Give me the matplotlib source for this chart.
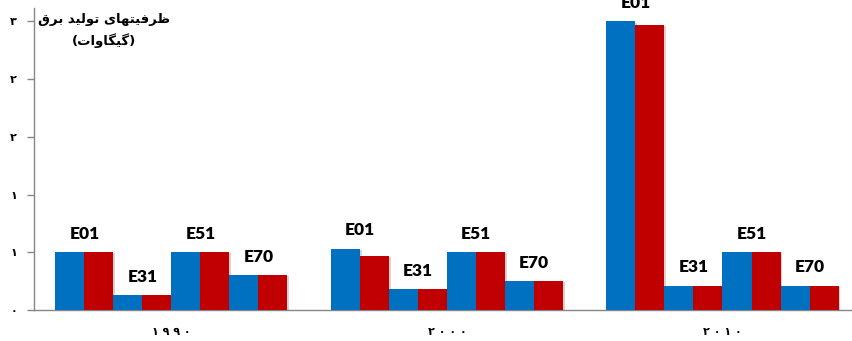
import numpy as np
import matplotlib.pyplot as plt
import matplotlib.patheffects as pe
from matplotlib.ticker import FuncFormatter

years = ['1990', '2000', '2010']
units = ['E01', 'E31', 'E51', 'E70']
# capacity per unit, two bars (blue / red) for each unit
blue_vals = [[0.50, 0.13, 0.50, 0.30],
             [0.53, 0.18, 0.50, 0.25],
             [2.50, 0.21, 0.50, 0.21]]
red_vals = [[0.50, 0.13, 0.50, 0.30],
            [0.47, 0.18, 0.50, 0.25],
            [2.47, 0.21, 0.50, 0.21]]
title_lines = ['ظرفیتهای تولید برق', '(گیگاوات)']

BLUE = '#0070C0'
RED = '#C00000'
GREY = '#868686'

FA_DIGITS = str.maketrans('0123456789', '۰۱۲۳۴۵۶۷۸۹')

# presentation forms: isolated, final, initial, medial
FORMS = {
    'ظ': ('\uFEC5', '\uFEC6', '\uFEC7', '\uFEC8'),
    'ر': ('\uFEAD', '\uFEAE', None, None),
    'ف': ('\uFED1', '\uFED2', '\uFED3', '\uFED4'),
    'ی': ('\uFBFC', '\uFBFD', '\uFBFE', '\uFBFF'),
    'ت': ('\uFE95', '\uFE96', '\uFE97', '\uFE98'),
    'ه': ('\uFEE9', '\uFEEA', '\uFEEB', '\uFEEC'),
    'ا': ('\uFE8D', '\uFE8E', None, None),
    'و': ('\uFEED', '\uFEEE', None, None),
    'ل': ('\uFEDD', '\uFEDE', '\uFEDF', '\uFEE0'),
    'د': ('\uFEA9', '\uFEAA', None, None),
    'ب': ('\uFE8F', '\uFE90', '\uFE91', '\uFE92'),
    'ق': ('\uFED5', '\uFED6', '\uFED7', '\uFED8'),
    'گ': ('\uFB92', '\uFB93', '\uFB94', '\uFB95'),
}


def shape_rtl(text):
    # join letters and reverse for left-to-right rendering
    out = []
    for i, ch in enumerate(text):
        if ch not in FORMS:
            out.append(ch)
            continue
        prev = text[i - 1] if i > 0 else ''
        nxt = text[i + 1] if i + 1 < len(text) else ''
        join_prev = prev in FORMS and FORMS[prev][2] is not None
        join_next = FORMS[ch][2] is not None and nxt in FORMS
        f = FORMS[ch]
        if join_prev and join_next:
            out.append(f[3])
        elif join_prev:
            out.append(f[1])
        elif join_next:
            out.append(f[2])
        else:
            out.append(f[0])
    s = ''.join(reversed(out))
    return s.translate(str.maketrans('()', ')('))


fig = plt.figure(figsize=(8.52, 3.41), dpi=100)
ax = fig.add_axes([0.0395, 0.091, 0.9605, 0.885])

n = len(units)
w = 0.1053
x = np.arange(len(years))
shadow = [pe.SimplePatchShadow(offset=(1.2, -0.8), alpha=0.18), pe.Normal()]

for g in range(len(years)):
    start = x[g] - n * w
    for k in range(n):
        xb = start + 2 * k * w + w / 2
        xr = xb + w
        b = ax.bar(xb, blue_vals[g][k], w, color=BLUE, zorder=3)
        r = ax.bar(xr, red_vals[g][k], w, color=RED, zorder=3)
        for p in list(b) + list(r):
            p.set_path_effects(shadow)
        top = max(blue_vals[g][k], red_vals[g][k])
        ax.text(xb + w / 2, top + 0.09, units[k], ha='center', va='bottom',
                fontsize=12.5, fontweight='heavy', family='Lato',
                clip_on=False, zorder=4)

ax.set_xlim(-0.5, 2.47)
ax.set_ylim(0, 2.615)
ax.set_yticks(np.arange(0, 2.51, 0.5))
ax.yaxis.set_major_formatter(FuncFormatter(
    lambda v, pos: str(int(np.floor(v + 0.5))).translate(FA_DIGITS)))
ax.set_xticks(x)
ax.set_xticklabels([' '.join(y.translate(FA_DIGITS)) for y in years])

for lab in ax.get_yticklabels() + ax.get_xticklabels():
    lab.set_family('DejaVu Sans')
    lab.set_fontweight('bold')
    lab.set_fontsize(8)

ax.tick_params(axis='y', length=5, width=1, color=GREY, pad=7)
ax.tick_params(axis='x', length=0, pad=12)
for side in ['top', 'right']:
    ax.spines[side].set_visible(False)
for side in ['left', 'bottom']:
    ax.spines[side].set_color(GREY)
    ax.spines[side].set_linewidth(1)

fig.text(0.122, 0.943, shape_rtl(title_lines[0]), ha='center', va='center',
         fontsize=9.5, fontweight='bold', family='DejaVu Sans')
fig.text(0.122, 0.88, shape_rtl(title_lines[1]), ha='center', va='center',
         fontsize=9.5, fontweight='bold', family='DejaVu Sans')

fig.savefig('out.png', dpi=100)
